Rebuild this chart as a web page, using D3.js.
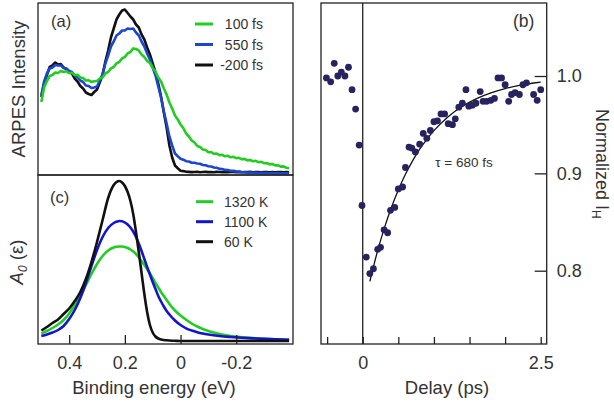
<!DOCTYPE html>
<html><head><meta charset="utf-8">
<script src="https://cdn.jsdelivr.net/npm/d3@7"></script>
<style>
html,body{margin:0;padding:0;background:#fff;}
svg{display:block;font-family:"Liberation Sans",Arial,Helvetica,sans-serif;}
</style></head>
<body><svg id="chart" width="614" height="408"></svg>
<script>
// ---------- Panel (a): ARPES spectra ----------
const energyA = [
 0.50,0.49,0.48,0.47,0.46,0.45,0.44,0.43,0.42,0.41,
 0.40,0.39,0.38,0.37,0.36,0.35,0.34,0.33,0.32,0.31,
 0.30,0.29,0.28,0.27,0.26,0.25,0.24,0.23,0.22,0.21,
 0.20,0.19,0.18,0.17,0.16,0.15,0.14,0.13,0.12,0.11,
 0.10,0.09,0.08,0.07,0.06,0.05,0.04,0.03,0.02,0.01,
 0.00,-0.01,-0.02,-0.03,-0.04,-0.05,-0.06,-0.07,-0.08,-0.09,
 -0.10,-0.11,-0.12,-0.13,-0.14,-0.15,-0.16,-0.17,-0.18,-0.19,
 -0.20,-0.21,-0.22,-0.23,-0.24,-0.25,-0.26,-0.27,-0.28,-0.29,
 -0.30,-0.31,-0.32,-0.33,-0.34,-0.35,-0.36,-0.37,-0.38,-0.39];
const arpesMinus200 = [
 78,91.5,100,108,109.5,112.5,110.5,111,107.5,106,
 103.5,101.5,96.5,93.5,89,86.5,82.5,81,80,83,
 85.5,92.5,100.5,113.5,124.5,137.5,146.5,155.5,160.5,164.5,
 165.5,162,158.5,155.5,150.5,147.5,140.5,135.5,127.5,120.5,
 111.5,102.5,91.5,78.5,62.5,47.5,29.5,17.5,9.5,6.8,
 4.3,3.9,3.3,3.1,2.9,3.0,3.2,2.8,3.0,3.1,
 2.9,3.0,2.8,3.1,3.0,2.9,3.1,2.8,3.0,3.0,
 2.9,3.1,2.8,3.0,2.9,3.1,2.8,2.9,3.0,2.8,
 2.9,3.0,2.8,2.9,2.8,2.9,3.0,2.8,2.9,2.8];
const arpes550 = [
 80,93.5,101.5,106.5,107.5,110,109.5,109.5,107,106.5,
 104,103,99.5,98,94.5,93,89.5,89,87,87.5,
 88.5,94.5,100.5,111.5,119.5,128.5,133.5,139.5,141.5,144.5,
 144.5,146.5,146,146.5,142.5,139.5,133.5,128.5,121.5,115.5,
 107.5,99.5,88.5,77.5,63.5,51.5,38.5,29.5,21.5,18.8,
 16.3,15.3,13.8,13.5,12.3,12.2,11.5,11.2,10.0,9.7,
 8.8,8.5,7.5,7.2,6.1,6.0,5.1,4.9,4.2,4.1,
 3.6,3.4,2.9,2.8,2.4,2.5,2.1,2.3,2.0,2.1,
 1.9,2.0,1.8,1.9,1.7,1.9,1.8,1.7,1.8,1.7];
const arpes100 = [
 73,87.5,94,99,100,102.5,102,104,103,103.8,
 101.8,102.2,100,100.2,97.5,97,94.5,94.6,93,93.8,
 94,96.6,97.5,101.6,103,106.6,108,111.6,113,116.6,
 118,121.6,123,126.6,126,124.6,120.5,118,114,112,
 107,103.5,97.5,93.5,86.5,80.5,72.5,66.5,59.5,55.5,
 50.5,47,41.5,38.5,34.5,32.5,29,28,25.5,25,
 22.8,22.8,21.2,21.5,19.8,20.2,18.7,19.2,17.7,18.2,
 16.8,17.2,15.7,16.1,14.6,15,13.8,14.2,12.8,13.2,
 11.8,12,10.6,11,9.6,9.8,8.4,8.6,7.3,6.8];
const legendA = ["100 fs","550 fs","-200 fs"];

// ---------- Panel (c): model spectral functions ----------
const energyC = [0.50,0.48,0.46,0.44,0.42,0.40,0.38,0.36,0.34,0.32,0.30,0.28,0.26,0.24,
 0.23,0.22,0.21,0.20,0.19,0.18,0.17,0.16,0.15,0.14,0.13,0.12,0.11,0.10,0.09,0.08,0.07,0.06,0.05,0.04,
 0.02,0.00,-0.02,-0.04,-0.06,-0.08,-0.10,
 -0.14,-0.18,-0.22,-0.26,-0.30,-0.34,-0.39];
const model60K = [10.5,14,18,21.5,27,32.5,40,49,62,79,99,121,143,156,
 159,160,158.5,155,149,140,127,109,89,68,47,29,16,8.5,4.5,2.5,1.5,1,0.7,0.5,
 0.2,0,0,0,0,0,0,
 0,0,0,0,0,0,0];
const model1100K = [5,6.5,8.5,11,15,22,31,43,58,75,91,104,113,118,
 119.2,120,119.8,118.5,116.5,113.5,109.5,104,97.5,90,82,74,66.5,59,52,45,39.5,34.5,30,26.5,
 20.5,16,12.7,10.5,8.8,7.5,6.5,
 5,4,3.2,2.6,2.1,1.7,1.3];
const model1320K = [7.5,10,13,16.5,21,27.5,36,45,56,67,77,85,90.5,93.5,
 94.2,94.5,94.5,94,93,91.5,89.5,87,83.7,80,76,72,67.5,63,58,53.5,49,45,41,37,
 30.5,25.5,21.2,17.5,14.5,12,10,
 7,5,3.8,3,2.3,1.8,1.3];
const legendC = ["1320 K","1100 K","60 K"];
const energyTicks = [0.4,0.2,0,-0.2];

// ---------- Panel (b): normalized intensity vs delay ----------
const delay = [-0.51,-0.45,-0.40,-0.35,-0.30,-0.25,-0.20,-0.15,-0.10,-0.05,
 -0.01,0.05,0.10,0.15,0.21,0.25,0.30,0.35,0.39,0.45,
 0.50,0.56,0.60,0.65,0.69,0.74,0.80,0.85,0.90,0.95,
 1.00,1.05,1.10,1.15,1.20,1.26,1.30,1.35,1.40,1.45,
 1.49,1.54,1.59,1.65,1.69,1.74,1.80,1.85,1.90,1.95,
 2.00,2.05,2.09,2.14,2.20,2.25,2.30,2.40,2.45,2.50];
const normI = [0.998,0.994,1.013,1.000,1.004,1.000,1.009,0.986,0.966,0.929,
 0.867,0.814,0.797,0.802,0.822,0.824,0.842,0.839,0.862,0.865,
 0.884,0.886,0.906,0.927,0.926,0.922,0.930,0.941,0.936,0.944,
 0.953,0.954,0.961,0.961,0.951,0.950,0.956,0.968,0.972,0.986,
 0.969,0.970,0.972,0.984,0.974,0.974,0.975,0.977,0.998,0.998,
 0.991,0.974,0.981,0.983,0.981,0.991,0.993,0.981,0.975,0.986];
const fitDelay = [0.1,0.2,0.3,0.4,0.5,0.6,0.7,0.8,0.9,1.0,1.2,1.4,1.6,1.8,2.0,2.2,2.4,2.5];
const fitI = [0.789,0.818,0.843,0.8645,0.883,0.899,0.9128,0.9248,0.935,0.9439,0.9582,0.9689,0.9768,0.9827,0.9871,0.9904,0.9928,0.9938];
const delayTicks = [-0.5,0,0.5,1,1.5,2,2.5];
const normTicks = [0.8,0.9,1.0];

// ---------- drawing ----------
const svg = d3.select("#chart");
const TXT = "#333", FRAME = "#222";
const GREEN = "#22cc22", BLUE_A = "#1c46cf", BLUE_C = "#1414cc", BLACK = "#111", NAVY = "#26235f";

const xE = d3.scaleLinear().domain([0.512,-0.404]).range([38,293]);
const yA = d3.scaleLinear().domain([0,170]).range([175,5]);
const yC = d3.scaleLinear().domain([0,166]).range([341,175]);
const xT = d3.scaleLinear().domain([-0.586,2.584]).range([321,546.7]);
const yN = d3.scaleLinear().domain([0.7247,1.075]).range([344,3]);

// panel (a) curves
const lineA = d3.line().x(d=>xE(d[0])).y(d=>yA(d[1]));
[[arpesMinus200,BLACK],[arpes550,BLUE_A],[arpes100,GREEN]].forEach(([vals,col])=>{
  const pts = energyA.map((e,i)=>[e,vals[i]]).filter(p=>p[1]!==undefined);
  svg.append("path").attr("d",lineA(pts)).attr("fill","none").attr("stroke",col)
    .attr("stroke-width",2.6).attr("stroke-linejoin","round");
});

// panel (c) curves
const lineC = d3.line().x(d=>xE(d[0])).y(d=>yC(d[1])).curve(d3.curveMonotoneX);
[[model1320K,GREEN],[model1100K,BLUE_C],[model60K,BLACK]].forEach(([vals,col])=>{
  const pts = energyC.map((e,i)=>[e,vals[i]]).filter(p=>p[1]!==undefined);
  svg.append("path").attr("d",lineC(pts)).attr("fill","none").attr("stroke",col)
    .attr("stroke-width",2.6).attr("stroke-linejoin","round");
});

// frames
[[38,3,293,175],[38,175,293,344],[321,3,546.7,344]].forEach(([x0,y0,x1,y1])=>{
  svg.append("rect").attr("x",x0).attr("y",y0).attr("width",x1-x0).attr("height",y1-y0)
    .attr("fill","none").attr("stroke",FRAME).attr("stroke-width",1.3);
});

// panel (c) bottom axis
const fmtE = d => d===0 ? "0" : (d<0?"-":"") + Math.abs(d).toFixed(1);
const axC = svg.append("g").attr("transform","translate(0,344)")
  .call(d3.axisBottom(xE).tickValues(energyTicks).tickSize(-9).tickPadding(12.5).tickFormat(fmtE));
axC.select(".domain").remove();
axC.selectAll("line").attr("stroke",FRAME).attr("stroke-width",1.3);
axC.selectAll("text").attr("fill",TXT).style("font-size","18px");

// panel (b) axes
const axB = svg.append("g").attr("transform","translate(0,344)")
  .call(d3.axisBottom(xT).tickValues(delayTicks).tickSize(-7).tickPadding(12.5)
    .tickFormat(d => d===0 ? "0" : (d===2.5 ? "2.5" : "")));
axB.select(".domain").remove();
axB.selectAll("line").attr("stroke",FRAME).attr("stroke-width",1.3);
axB.selectAll("text").attr("fill",TXT).style("font-size","18px");

const axR = svg.append("g").attr("transform","translate(546.7,0)")
  .call(d3.axisRight(yN).tickValues(normTicks).tickSize(-12).tickPadding(10).tickFormat(d3.format(".1f")));
axR.select(".domain").remove();
axR.selectAll("line").attr("stroke",FRAME).attr("stroke-width",1.3);
axR.selectAll("text").attr("fill",TXT).style("font-size","18px");

// zero-delay line
svg.append("line").attr("x1",xT(0)).attr("x2",xT(0)).attr("y1",3).attr("y2",344)
  .attr("stroke",FRAME).attr("stroke-width",1.3);

// fit curve
const lineFit = d3.line().x(d=>xT(d[0])).y(d=>yN(d[1])).curve(d3.curveMonotoneX);
svg.append("path").attr("d",lineFit(fitDelay.map((t,i)=>[t,fitI[i]])))
  .attr("fill","none").attr("stroke",BLACK).attr("stroke-width",1.3);

// scatter
svg.append("g").selectAll("circle").data(delay.map((t,i)=>[t,normI[i]])).join("circle")
  .attr("cx",d=>xT(d[0])).attr("cy",d=>yN(d[1])).attr("r",3.4).attr("fill",NAVY);

// legends
const legColsA = [GREEN,BLUE_A,BLACK];
legendA.forEach((s,i)=>{
  const y = 24 + i*20.5;
  svg.append("line").attr("x1",195).attr("x2",213).attr("y1",y).attr("y2",y)
    .attr("stroke",legColsA[i]).attr("stroke-width",3);
  svg.append("text").attr("x",263).attr("y",y+5).attr("text-anchor","end")
    .attr("fill",TXT).style("font-size","14px").text(s);
});
const legColsC = [GREEN,BLUE_C,BLACK];
legendC.forEach((s,i)=>{
  const y = 201.7 + i*20;
  svg.append("line").attr("x1",196).attr("x2",213).attr("y1",y).attr("y2",y)
    .attr("stroke",legColsC[i]).attr("stroke-width",3);
  svg.append("text").attr("x",224).attr("y",y+5).attr("fill",TXT)
    .style("font-size","14px").text(s);
});

// panel labels
svg.append("text").attr("x",51).attr("y",27).attr("fill",TXT).style("font-size","16.5px").text("(a)");
svg.append("text").attr("x",50).attr("y",202.5).attr("fill",TXT).style("font-size","16.5px").text("(c)");
svg.append("text").attr("x",513).attr("y",27).attr("fill",TXT).style("font-size","17.5px").text("(b)");
svg.append("text").attr("x",464).attr("y",166.5).attr("text-anchor","middle").attr("fill",TXT)
  .style("font-size","13.5px").text("τ = 680 fs");

// axis titles
svg.append("text").attr("transform","translate(25,89) rotate(-90)").attr("text-anchor","middle")
  .attr("fill",TXT).style("font-size","18.5px").text("ARPES Intensity");
const tA0 = svg.append("text").attr("transform","translate(23,262) rotate(-90)").attr("text-anchor","middle")
  .attr("fill",TXT).style("font-size","18.5px");
tA0.append("tspan").style("font-style","italic").text("A");
tA0.append("tspan").style("font-style","italic").style("font-size","12px").attr("dy",4).text("0");
tA0.append("tspan").attr("dy",-4).text(" (ε)");
svg.append("text").attr("x",154).attr("y",394).attr("text-anchor","middle").attr("fill",TXT)
  .style("font-size","18.5px").text("Binding energy (eV)");
svg.append("text").attr("x",447).attr("y",394).attr("text-anchor","middle").attr("fill",TXT)
  .style("font-size","18.5px").text("Delay (ps)");
const tN = svg.append("text").attr("transform","translate(596,109) rotate(90)")
  .attr("fill",TXT).style("font-size","18px");
tN.append("tspan").text("Normalized I");
tN.append("tspan").style("font-size","12px").attr("dy",4).text("H");
</script>
</body></html>
